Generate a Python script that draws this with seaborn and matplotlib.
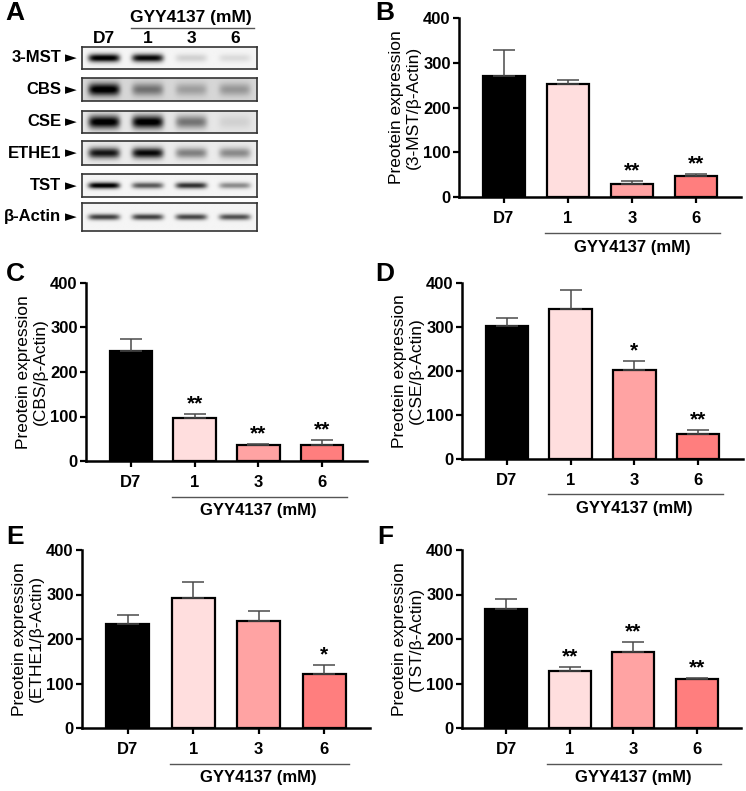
import numpy as np
import matplotlib
matplotlib.use("Agg")
import matplotlib.pyplot as plt
import matplotlib.transforms as mtransforms
import seaborn as sns
from matplotlib import font_manager

# Группы и цвета столбцов
groups = ["D7", "1", "3", "6"]
bar_colors = ["#000000", "#FFDEDE", "#FFA3A3", "#FF7E7E"]

# Значения (среднее, ошибка, значимость) для панелей B-F
mst_mean = [270, 252, 30, 46]
mst_err = [58, 9, 6, 6]
mst_sig = ["", "", "**", "**"]

cbs_mean = [248, 96, 35, 35]
cbs_err = [27, 9, 4, 13]
cbs_sig = ["", "**", "**", "**"]

cse_mean = [302, 340, 202, 56]
cse_err = [18, 44, 20, 11]
cse_sig = ["", "", "*", "**"]

ethe1_mean = [233, 292, 241, 122]
ethe1_err = [22, 37, 21, 19]
ethe1_sig = ["", "", "", "*"]

tst_mean = [268, 129, 171, 111]
tst_err = [23, 9, 23, 1]
tst_sig = ["", "**", "**", "**"]

# Вестерн-блот: интенсивность полос по дорожкам
blot_proteins = ["3-MST", "CBS", "CSE", "ETHE1", "TST", "β-Actin"]
blot_bands = [
    [1.00, 0.95, 0.14, 0.10],
    [0.90, 0.40, 0.22, 0.25],
    [0.95, 0.95, 0.45, 0.08],
    [0.85, 0.90, 0.42, 0.38],
    [1.00, 0.62, 0.78, 0.42],
    [0.72, 0.72, 0.70, 0.66],
]
blot_background = [0.04, 0.16, 0.10, 0.08, 0.04, 0.04]
blot_thickness = [0.38, 0.55, 0.60, 0.45, 0.28, 0.22]

W, H = 746, 791
fig = plt.figure(figsize=(W / 100, H / 100), dpi=100)

names = {f.name for f in font_manager.fontManager.ttflist}
narrow = "Liberation Sans Narrow" if "Liberation Sans Narrow" in names else "Liberation Sans"
plt.rcParams["font.family"] = [narrow, "DejaVu Sans"]
plt.rcParams["axes.linewidth"] = 1.8


def px_axes(l, t, r, b):
    return fig.add_axes([l / W, 1 - b / H, (r - l) / W, (b - t) / H])


def bar_panel(ax, means, errs, sig, name):
    sns.barplot(x=groups, y=means, hue=groups, palette=bar_colors, legend=False,
                saturation=1, width=0.66, edgecolor="black", linewidth=1.6,
                errorbar=None, ax=ax)
    ax.errorbar(range(len(groups)), means, yerr=[np.zeros(len(errs)), errs], fmt="none",
                ecolor="#4a4a4a", elinewidth=1.1, capsize=8, capthick=1.1, zorder=1)
    for i, s in enumerate(sig):
        if s:
            ax.text(i, means[i] + errs[i] + 1, s, ha="center", va="bottom",
                    fontsize=15, fontweight="bold")
    ax.set_xlim(-0.7, 3.7)
    ax.set_ylim(0, 400)
    ax.set_yticks([0, 100, 200, 300, 400])
    sns.despine(ax=ax)
    ax.tick_params(axis="both", labelsize=12, width=1.6, length=4, pad=2)
    for t in ax.get_xticklabels() + ax.get_yticklabels():
        t.set_fontweight("bold")
    ax.tick_params(axis="x", pad=6)
    ax.set_xlabel("")
    ax.set_ylabel("Preotein expression\n(" + name + "/β-Actin)", fontsize=12.5,
                  labelpad=2, linespacing=1.15)
    tr = mtransforms.blended_transform_factory(ax.transData, ax.transAxes)
    ax.plot([0.64, 3.38], [-0.2, -0.2], transform=tr, color="#555555", lw=1, clip_on=False)
    ax.text(2.0, -0.28, "GYY4137 (mM)", transform=tr, ha="center", va="center",
            fontsize=12, fontweight="bold")


def draw_blot(ax, bands, bg, thick):
    xs = np.linspace(-0.5, 3.5, 240)
    ys = np.linspace(-1, 1, 40)
    X, Y = np.meshgrid(xs, ys)
    img = np.full(X.shape, bg)
    for i, v in enumerate(bands):
        img += v * np.exp(-((X - i) / 0.36) ** 6) * np.exp(-(Y / thick) ** 2)
    ax.imshow(np.clip(img, 0, 1), cmap="gray_r", vmin=0, vmax=1,
              extent=(-0.5, 3.5, -1, 1), aspect="auto", interpolation="bilinear")
    ax.set_xlim(-0.5, 3.5)
    ax.set_ylim(-1, 1)
    ax.set_xticks([])
    ax.set_yticks([])
    for s in ax.spines.values():
        s.set_linewidth(1.2)
        s.set_color("#333333")


# Панель A: блот
rows_px = [(47, 69), (78, 101), (111, 133), (141, 165), (174, 197), (203, 231)]
blot_axes = []
for (top, bot), prot, bands, bg, th in zip(rows_px, blot_proteins, blot_bands,
                                           blot_background, blot_thickness):
    bax = px_axes(82, top, 257, bot)
    draw_blot(bax, bands, bg, th)
    bax.text(-0.12, 0.5, prot, transform=bax.transAxes, ha="right", va="center",
             fontsize=12, fontweight="bold")
    bax.text(-0.03, 0.5, "►", transform=bax.transAxes, ha="right", va="center",
             fontsize=11, family="DejaVu Sans")
    blot_axes.append(bax)

top_ax = blot_axes[0]
tr0 = mtransforms.blended_transform_factory(top_ax.transData, top_ax.transAxes)
for i, g in enumerate(groups):
    top_ax.text(i, 1.38, g, transform=tr0, ha="center", va="center",
                fontsize=12.5, fontweight="bold")
top_ax.plot([0.62, 3.44], [1.86, 1.86], transform=tr0, color="#555555", lw=1, clip_on=False)
top_ax.text(2.0, 2.32, "GYY4137 (mM)", transform=tr0, ha="center", va="center",
            fontsize=12.5, fontweight="bold")

# Панели B-F
bar_panel(px_axes(459, 18, 741, 197), mst_mean, mst_err, mst_sig, "3-MST")
bar_panel(px_axes(86, 283, 367, 461), cbs_mean, cbs_err, cbs_sig, "CBS")
bar_panel(px_axes(462, 283, 743, 459), cse_mean, cse_err, cse_sig, "CSE")
bar_panel(px_axes(82, 550, 370, 728), ethe1_mean, ethe1_err, ethe1_sig, "ETHE1")
bar_panel(px_axes(462, 550, 741, 728), tst_mean, tst_err, tst_sig, "TST")

# Буквы панелей
for letter, x, y in [("A", 15, 13), ("B", 385, 13), ("C", 15, 274),
                     ("D", 385, 274), ("E", 15, 537), ("F", 385, 537)]:
    fig.text(x / W, 1 - y / H, letter, ha="center", va="center", fontsize=19,
             fontweight="bold", family=["Liberation Sans", "DejaVu Sans"])

fig.savefig("out.png", dpi=100)
